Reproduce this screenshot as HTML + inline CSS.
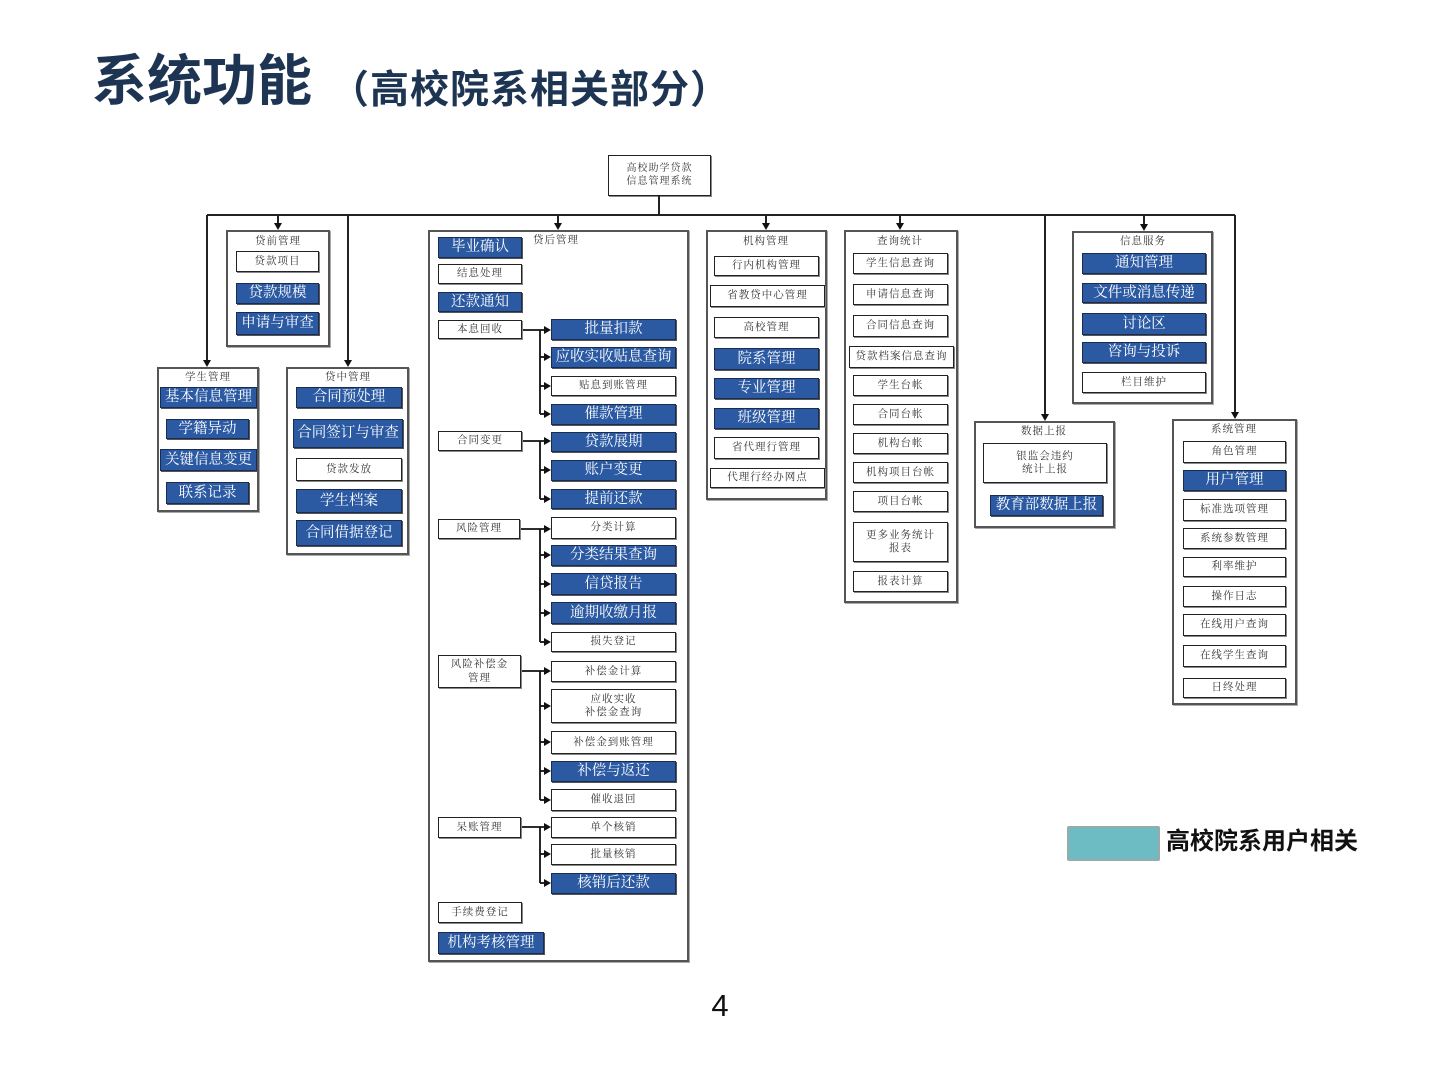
<!DOCTYPE html>
<html><head><meta charset="utf-8">
<style>
html,body{margin:0;padding:0;background:#fff;}
body{width:1440px;height:1080px;position:relative;overflow:hidden;font-family:"Liberation Serif","Noto Serif CJK SC",serif;}
.c{position:absolute;box-sizing:border-box;border:2px solid #555;background:#fff;box-shadow:1px 1px 0 #aaa;}
.b{position:absolute;box-sizing:border-box;display:flex;align-items:center;justify-content:center;text-align:center;line-height:1.25;}
.w{border:1.5px solid #222;background:#fff;color:#333;font-size:10.5px;letter-spacing:1px;box-shadow:1px 1px 0 #888;}
.u{border:1px solid #1a2c50;background:#2b5aa3;color:#fff;font-size:14.5px;box-shadow:1px 1px 0 #555;white-space:nowrap;}
.t{position:absolute;font-size:10.5px;color:#333;letter-spacing:1px;text-align:center;line-height:1;}
</style></head><body>

<div style="position:absolute;left:92px;top:54px;font-family:'Liberation Sans','Noto Sans CJK SC',sans-serif;font-weight:bold;color:#1d3452;font-size:55px;line-height:1;white-space:nowrap;">系统功能</div>
<div style="position:absolute;left:330px;top:71px;font-family:'Liberation Sans','Noto Sans CJK SC',sans-serif;font-weight:bold;color:#1d3452;font-size:39px;letter-spacing:1px;line-height:1;white-space:nowrap;">（高校院系相关部分）</div>

<!-- root -->
<div class="b w" style="left:608px;top:155px;width:103px;height:41px;font-size:10px;">高校助学贷款<br>信息管理系统</div>

<!-- containers -->
<div class="c" style="left:226px;top:230px;width:104px;height:117px"></div>
<div class="c" style="left:157px;top:367px;width:102px;height:145px"></div>
<div class="c" style="left:286px;top:367px;width:123px;height:188px"></div>
<div class="c" style="left:428px;top:230px;width:261px;height:732px"></div>
<div class="c" style="left:706px;top:230px;width:121px;height:270px"></div>
<div class="c" style="left:844px;top:230px;width:114px;height:373px"></div>
<div class="c" style="left:1072px;top:231px;width:141px;height:173px"></div>
<div class="c" style="left:974px;top:421px;width:141px;height:107px"></div>
<div class="c" style="left:1172px;top:419px;width:125px;height:286px"></div>

<svg style="position:absolute;left:0;top:0" width="1440" height="1080">
<g stroke="#222" stroke-width="2" fill="none">
<line x1="659" y1="196" x2="659" y2="215"/>
<line x1="207" y1="215" x2="1235" y2="215"/>
<line x1="207" y1="215" x2="207" y2="361"/>
<line x1="278" y1="215" x2="278" y2="224"/>
<line x1="348" y1="215" x2="348" y2="361"/>
<line x1="558" y1="215" x2="558" y2="224"/>
<line x1="766" y1="215" x2="766" y2="224"/>
<line x1="900" y1="215" x2="900" y2="224"/>
<line x1="1045" y1="215" x2="1045" y2="415"/>
<line x1="1144" y1="215" x2="1144" y2="225"/>
<line x1="1235" y1="215" x2="1235" y2="413"/>
</g>
<g fill="#111">
<polygon points="203,360 211,360 207,367"/>
<polygon points="274,223 282,223 278,230"/>
<polygon points="344,360 352,360 348,367"/>
<polygon points="554,223 562,223 558,230"/>
<polygon points="762,223 770,223 766,230"/>
<polygon points="896,223 904,223 900,230"/>
<polygon points="1041,414 1049,414 1045,421"/>
<polygon points="1140,224 1148,224 1144,231"/>
<polygon points="1231,412 1239,412 1235,419"/>
</g>
<g stroke="#111" stroke-width="1.8" fill="none">
<line x1="522" y1="330" x2="546" y2="330"/>
<line x1="540" y1="330" x2="540" y2="414"/>
<line x1="540" y1="357" x2="546" y2="357"/>
<line x1="540" y1="386" x2="546" y2="386"/>
<line x1="540" y1="414" x2="546" y2="414"/>
<line x1="522" y1="441" x2="546" y2="441"/>
<line x1="540" y1="441" x2="540" y2="499"/>
<line x1="540" y1="470" x2="546" y2="470"/>
<line x1="540" y1="499" x2="546" y2="499"/>
<line x1="520" y1="529" x2="546" y2="529"/>
<line x1="540" y1="529" x2="540" y2="642"/>
<line x1="540" y1="555" x2="546" y2="555"/>
<line x1="540" y1="584" x2="546" y2="584"/>
<line x1="540" y1="613" x2="546" y2="613"/>
<line x1="540" y1="642" x2="546" y2="642"/>
<line x1="521" y1="671" x2="546" y2="671"/>
<line x1="540" y1="671" x2="540" y2="800"/>
<line x1="540" y1="706" x2="546" y2="706"/>
<line x1="540" y1="742" x2="546" y2="742"/>
<line x1="540" y1="771" x2="546" y2="771"/>
<line x1="540" y1="800" x2="546" y2="800"/>
<line x1="521" y1="827" x2="546" y2="827"/>
<line x1="540" y1="827" x2="540" y2="883"/>
<line x1="540" y1="854" x2="546" y2="854"/>
<line x1="540" y1="883" x2="546" y2="883"/>
</g>
<g fill="#111">
<polygon points="544,326 544,334 551,330"/>
<polygon points="544,353 544,361 551,357"/>
<polygon points="544,382 544,390 551,386"/>
<polygon points="544,410 544,418 551,414"/>
<polygon points="544,437 544,445 551,441"/>
<polygon points="544,466 544,474 551,470"/>
<polygon points="544,495 544,503 551,499"/>
<polygon points="544,525 544,533 551,529"/>
<polygon points="544,551 544,559 551,555"/>
<polygon points="544,580 544,588 551,584"/>
<polygon points="544,609 544,617 551,613"/>
<polygon points="544,638 544,646 551,642"/>
<polygon points="544,667 544,675 551,671"/>
<polygon points="544,702 544,710 551,706"/>
<polygon points="544,738 544,746 551,742"/>
<polygon points="544,767 544,775 551,771"/>
<polygon points="544,796 544,804 551,800"/>
<polygon points="544,823 544,831 551,827"/>
<polygon points="544,850 544,858 551,854"/>
<polygon points="544,879 544,887 551,883"/>
</g>
</svg>

<!-- container labels -->
<div class="t" style="left:228px;top:237px;width:100px;">贷前管理</div>
<div class="t" style="left:158px;top:373px;width:100px;">学生管理</div>
<div class="t" style="left:298px;top:373px;width:100px;">贷中管理</div>
<div class="t" style="left:533px;top:236px;">贷后管理</div>
<div class="t" style="left:716px;top:237px;width:100px;">机构管理</div>
<div class="t" style="left:850px;top:237px;width:100px;">查询统计</div>
<div class="t" style="left:1093px;top:237px;width:100px;">信息服务</div>
<div class="t" style="left:994px;top:427px;width:100px;">数据上报</div>
<div class="t" style="left:1184px;top:425px;width:100px;">系统管理</div>

<!-- 贷前 -->
<div class="b w" style="left:236px;top:251px;width:83px;height:21px">贷款项目</div>
<div class="b u" style="left:236px;top:283px;width:83px;height:21px">贷款规模</div>
<div class="b u" style="left:236px;top:312px;width:83px;height:23px">申请与审查</div>
<!-- 学生 -->
<div class="b u" style="left:160px;top:387px;width:97px;height:21px">基本信息管理</div>
<div class="b u" style="left:166px;top:419px;width:83px;height:20px">学籍异动</div>
<div class="b u" style="left:160px;top:449px;width:97px;height:22px">关键信息变更</div>
<div class="b u" style="left:166px;top:482px;width:83px;height:22px">联系记录</div>
<!-- 贷中 -->
<div class="b u" style="left:296px;top:387px;width:106px;height:21px">合同预处理</div>
<div class="b u" style="left:293px;top:419px;width:110px;height:29px">合同签订与审查</div>
<div class="b w" style="left:296px;top:458px;width:106px;height:23px">贷款发放</div>
<div class="b u" style="left:296px;top:489px;width:106px;height:24px">学生档案</div>
<div class="b u" style="left:296px;top:520px;width:106px;height:26px">合同借据登记</div>

<!-- 贷后 left -->
<div class="b u" style="left:438px;top:237px;width:84px;height:21px">毕业确认</div>
<div class="b w" style="left:438px;top:264px;width:84px;height:20px">结息处理</div>
<div class="b u" style="left:438px;top:292px;width:84px;height:20px">还款通知</div>
<div class="b w" style="left:438px;top:320px;width:84px;height:19px">本息回收</div>
<div class="b w" style="left:438px;top:431px;width:84px;height:20px">合同变更</div>
<div class="b w" style="left:438px;top:519px;width:82px;height:20px">风险管理</div>
<div class="b w" style="left:438px;top:655px;width:83px;height:33px">风险补偿金<br>管理</div>
<div class="b w" style="left:438px;top:817px;width:83px;height:21px">呆账管理</div>
<div class="b w" style="left:438px;top:902px;width:84px;height:21px">手续费登记</div>
<div class="b u" style="left:438px;top:932px;width:106px;height:22px">机构考核管理</div>

<!-- 贷后 right -->
<div class="b u" style="left:551px;top:319px;width:125px;height:21px">批量扣款</div>
<div class="b u" style="left:551px;top:347px;width:125px;height:21px">应收实收贴息查询</div>
<div class="b w" style="left:551px;top:376px;width:125px;height:20px">贴息到账管理</div>
<div class="b u" style="left:551px;top:404px;width:125px;height:21px">催款管理</div>
<div class="b u" style="left:551px;top:432px;width:125px;height:20px">贷款展期</div>
<div class="b u" style="left:551px;top:460px;width:125px;height:21px">账户变更</div>
<div class="b u" style="left:551px;top:489px;width:125px;height:20px">提前还款</div>
<div class="b w" style="left:551px;top:517px;width:125px;height:22px">分类计算</div>
<div class="b u" style="left:551px;top:545px;width:125px;height:21px">分类结果查询</div>
<div class="b u" style="left:551px;top:573px;width:125px;height:22px">信贷报告</div>
<div class="b u" style="left:551px;top:602px;width:125px;height:22px">逾期收缴月报</div>
<div class="b w" style="left:551px;top:632px;width:125px;height:20px">损失登记</div>
<div class="b w" style="left:551px;top:661px;width:125px;height:21px">补偿金计算</div>
<div class="b w" style="left:551px;top:689px;width:125px;height:34px">应收实收<br>补偿金查询</div>
<div class="b w" style="left:551px;top:731px;width:125px;height:23px">补偿金到账管理</div>
<div class="b u" style="left:551px;top:761px;width:125px;height:21px">补偿与返还</div>
<div class="b w" style="left:551px;top:789px;width:125px;height:22px">催收退回</div>
<div class="b w" style="left:551px;top:817px;width:125px;height:21px">单个核销</div>
<div class="b w" style="left:551px;top:844px;width:125px;height:21px">批量核销</div>
<div class="b u" style="left:551px;top:873px;width:125px;height:21px">核销后还款</div>

<!-- 机构管理 -->
<div class="b w" style="left:714px;top:256px;width:105px;height:20px">行内机构管理</div>
<div class="b w" style="left:710px;top:285px;width:115px;height:22px">省教贷中心管理</div>
<div class="b w" style="left:714px;top:317px;width:105px;height:21px">高校管理</div>
<div class="b u" style="left:714px;top:348px;width:105px;height:22px">院系管理</div>
<div class="b u" style="left:714px;top:378px;width:105px;height:21px">专业管理</div>
<div class="b u" style="left:714px;top:408px;width:105px;height:21px">班级管理</div>
<div class="b w" style="left:714px;top:437px;width:105px;height:22px">省代理行管理</div>
<div class="b w" style="left:710px;top:468px;width:115px;height:20px">代理行经办网点</div>

<!-- 查询统计 -->
<div class="b w" style="left:853px;top:253px;width:95px;height:21px">学生信息查询</div>
<div class="b w" style="left:853px;top:284px;width:95px;height:21px">申请信息查询</div>
<div class="b w" style="left:853px;top:315px;width:95px;height:22px">合同信息查询</div>
<div class="b w" style="left:849px;top:346px;width:105px;height:22px">贷款档案信息查询</div>
<div class="b w" style="left:853px;top:375px;width:95px;height:21px">学生台帐</div>
<div class="b w" style="left:853px;top:404px;width:95px;height:21px">合同台帐</div>
<div class="b w" style="left:853px;top:433px;width:95px;height:21px">机构台帐</div>
<div class="b w" style="left:853px;top:462px;width:95px;height:21px">机构项目台帐</div>
<div class="b w" style="left:853px;top:491px;width:95px;height:21px">项目台帐</div>
<div class="b w" style="left:853px;top:522px;width:95px;height:40px">更多业务统计<br>报表</div>
<div class="b w" style="left:853px;top:571px;width:95px;height:21px">报表计算</div>

<!-- 信息服务 -->
<div class="b u" style="left:1082px;top:253px;width:124px;height:21px">通知管理</div>
<div class="b u" style="left:1082px;top:283px;width:124px;height:20px">文件或消息传递</div>
<div class="b u" style="left:1082px;top:313px;width:124px;height:22px">讨论区</div>
<div class="b u" style="left:1082px;top:342px;width:124px;height:21px">咨询与投诉</div>
<div class="b w" style="left:1082px;top:372px;width:124px;height:21px">栏目维护</div>

<!-- 数据上报 -->
<div class="b w" style="left:983px;top:443px;width:124px;height:40px">银监会违约<br>统计上报</div>
<div class="b u" style="left:990px;top:495px;width:113px;height:21px">教育部数据上报</div>

<!-- 系统管理 -->
<div class="b w" style="left:1183px;top:441px;width:103px;height:22px">角色管理</div>
<div class="b u" style="left:1183px;top:470px;width:103px;height:21px">用户管理</div>
<div class="b w" style="left:1183px;top:499px;width:103px;height:22px">标准选项管理</div>
<div class="b w" style="left:1183px;top:528px;width:103px;height:21px">系统参数管理</div>
<div class="b w" style="left:1183px;top:557px;width:103px;height:20px">利率维护</div>
<div class="b w" style="left:1183px;top:586px;width:103px;height:21px">操作日志</div>
<div class="b w" style="left:1183px;top:614px;width:103px;height:22px">在线用户查询</div>
<div class="b w" style="left:1183px;top:645px;width:103px;height:22px">在线学生查询</div>
<div class="b w" style="left:1183px;top:678px;width:103px;height:20px">日终处理</div>

<!-- legend -->
<div style="position:absolute;left:1067px;top:826px;width:93px;height:35px;box-sizing:border-box;background:#6dbcc4;border:2px solid #9aa;border-radius:2px;"></div>
<div style="position:absolute;left:1166px;top:830px;font-family:'Liberation Sans','Noto Sans CJK SC',sans-serif;font-weight:bold;font-size:24px;color:#111;line-height:1;white-space:nowrap;">高校院系用户相关</div>

<!-- page number -->
<div style="position:absolute;left:708px;top:990px;width:24px;text-align:center;font-family:'Liberation Sans',sans-serif;font-size:31px;color:#111;line-height:1;">4</div>

</body></html>
